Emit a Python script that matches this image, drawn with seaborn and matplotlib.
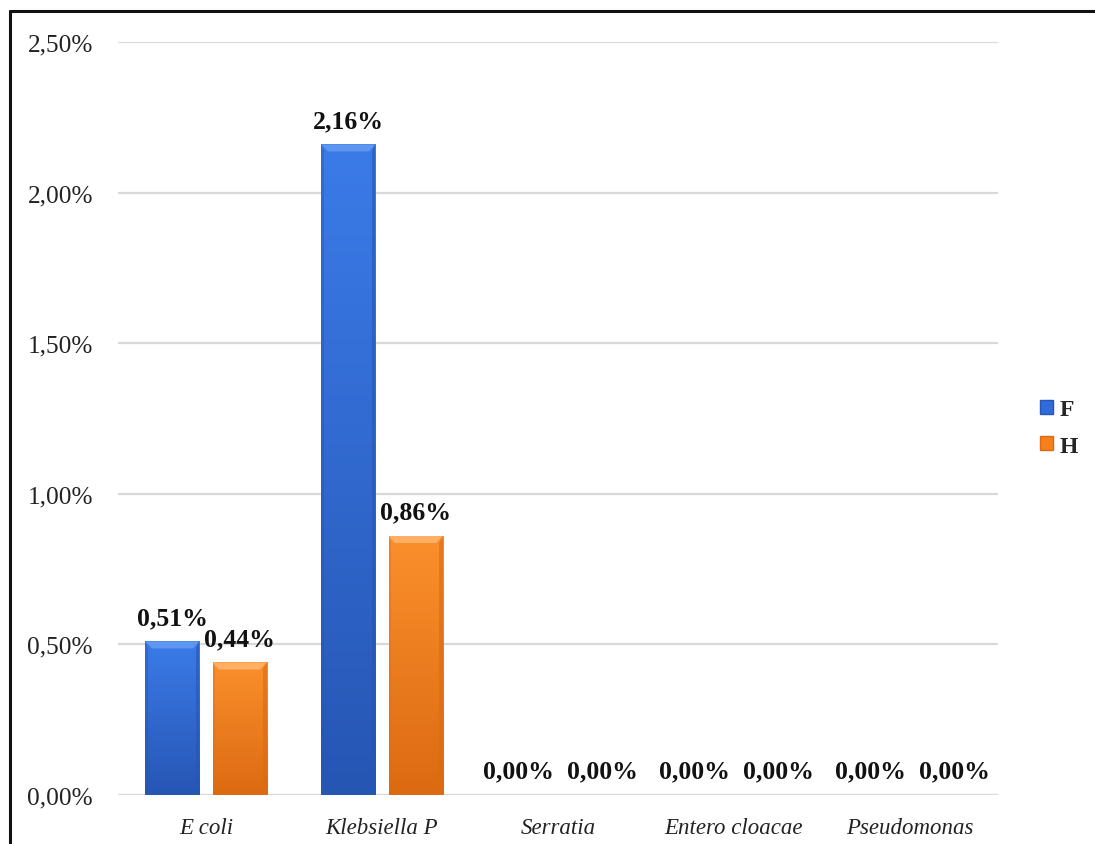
import numpy as np
import pandas as pd
import matplotlib
matplotlib.use("Agg")
import matplotlib.pyplot as plt
from matplotlib.patches import Polygon, Patch
from matplotlib.lines import Line2D
import seaborn as sns

# Data: percentage of isolates by organism and sex
organisms = ["E coli", "Klebsiella P", "Serratia", "Entero cloacae", "Pseudomonas"]
female = [0.51, 2.16, 0.00, 0.00, 0.00]
male = [0.44, 0.86, 0.00, 0.00, 0.00]
groups = ["F", "H"]
y_ticks = [0.0, 0.5, 1.0, 1.5, 2.0, 2.5]

df = pd.DataFrame({
    "organism": organisms * 2,
    "sex": ["F"] * len(organisms) + ["H"] * len(organisms),
    "value": female + male,
})

sns.set_theme(style="white")
plt.rcParams["font.family"] = ["Liberation Serif", "DejaVu Serif"]

base = {"F": "#2f6cd9", "H": "#f5801c"}
top_c = {"F": "#3b7be8", "H": "#fb8f2c"}
bot_c = {"F": "#2656b4", "H": "#dc6a12"}
bevel_c = {"F": "#5f97f0", "H": "#ffb064"}
# horizontal nudge (points) for labels sitting on empty bars, so neighbours do not collide
zero_nudge = {"F": -4, "H": 8}

fig = plt.figure(figsize=(10.95, 8.45), dpi=100)
ax = fig.add_axes([118 / 1095, 1 - 796 / 845, 880 / 1095, (796 - 43) / 845])

sns.barplot(data=df, x="organism", y="value", hue="sex", hue_order=groups,
            palette=base, width=0.762, gap=0.194, ax=ax, legend=False,
            edgecolor="none", linewidth=0, zorder=3)

ax.set_ylim(0, 2.5)
ax.set_xlim(-0.5, len(organisms) - 0.5)
ax.set_yticks(y_ticks)
ax.set_yticklabels([f"{v:.2f}".replace(".", ",") + "%" for v in y_ticks])
ax.yaxis.grid(True, color="#d9d9d9", linewidth=1.6, zorder=0)
ax.set_axisbelow(True)
for s in ax.spines.values():
    s.set_visible(False)
ax.tick_params(axis="y", length=0, pad=18, labelsize=18.2, labelcolor="#222222")
ax.tick_params(axis="x", length=0, pad=16, labelsize=16.5, labelcolor="#222222")
for t in ax.get_xticklabels():
    t.set_fontstyle("italic")
ax.set_xlabel("")
ax.set_ylabel("")

# Shade each bar with a vertical gradient and a bevelled top
px_per_unit = (796 - 43) / 2.5
bevel = 7 / px_per_unit
for container, g in zip(ax.containers, groups):
    for patch, v in zip(container.patches, container.datavalues):
        x0 = patch.get_x()
        w = patch.get_width()
        h = patch.get_height()
        label = f"{v:.2f}".replace(".", ",") + "%"
        dx_pt = zero_nudge[g] if v == 0 else 0
        ax.annotate(label, (x0 + w / 2, h), xytext=(dx_pt, 9), textcoords="offset points",
                    ha="center", va="bottom", fontsize=18.5, fontweight="bold",
                    color="#111111", zorder=6)
        if h <= 0:
            continue
        c1 = np.array(matplotlib.colors.to_rgb(top_c[g]))
        c2 = np.array(matplotlib.colors.to_rgb(bot_c[g]))
        t = np.linspace(0, 1, 64)[:, None]
        grad = (c1 * (1 - t) + c2 * t)[:, None, :]
        im = ax.imshow(grad, extent=[x0, x0 + w, 0, h], aspect="auto",
                       origin="upper", zorder=3.5, interpolation="bilinear")
        im.set_clip_path(patch)
        dx = w * 0.12
        b = min(bevel, h / 2)
        ax.add_patch(Polygon([[x0, h], [x0 + w, h], [x0 + w - dx, h - b], [x0 + dx, h - b]],
                             closed=True, facecolor=bevel_c[g], edgecolor="none", zorder=4))
        ax.add_patch(Polygon([[x0 + w, h], [x0 + w, 0], [x0 + w - dx * 0.6, 0],
                              [x0 + w - dx * 0.6, h - b]],
                             closed=True, facecolor=bot_c[g], alpha=0.6,
                             edgecolor="none", zorder=4))
        ax.add_patch(Polygon([[x0, h], [x0, 0], [x0 + dx * 0.4, 0], [x0 + dx * 0.4, h - b]],
                             closed=True, facecolor=bot_c[g], alpha=0.4,
                             edgecolor="none", zorder=4))

ax.set_ylim(0, 2.5)
ax.set_xlim(-0.5, len(organisms) - 0.5)

handles = [Patch(facecolor=base[g], edgecolor=bot_c[g], label=g) for g in groups]
leg = fig.legend(handles=handles, loc="center left", bbox_to_anchor=(1019 / 1095, 1 - 429 / 845),
                 frameon=False, handlelength=0.55, handleheight=0.55,
                 handletextpad=0.25, labelspacing=0.65,
                 prop={"weight": "bold", "size": 17})

# Outer frame on the top and left edges
fig.add_artist(Line2D([10 / 1095, 1.0], [1 - 12 / 845] * 2, color="#111111", linewidth=2.2,
                      transform=fig.transFigure))
fig.add_artist(Line2D([10 / 1095] * 2, [0.0, 1 - 12 / 845], color="#111111", linewidth=2.2,
                      transform=fig.transFigure))

fig.savefig("out.png", dpi=100, facecolor="white")
